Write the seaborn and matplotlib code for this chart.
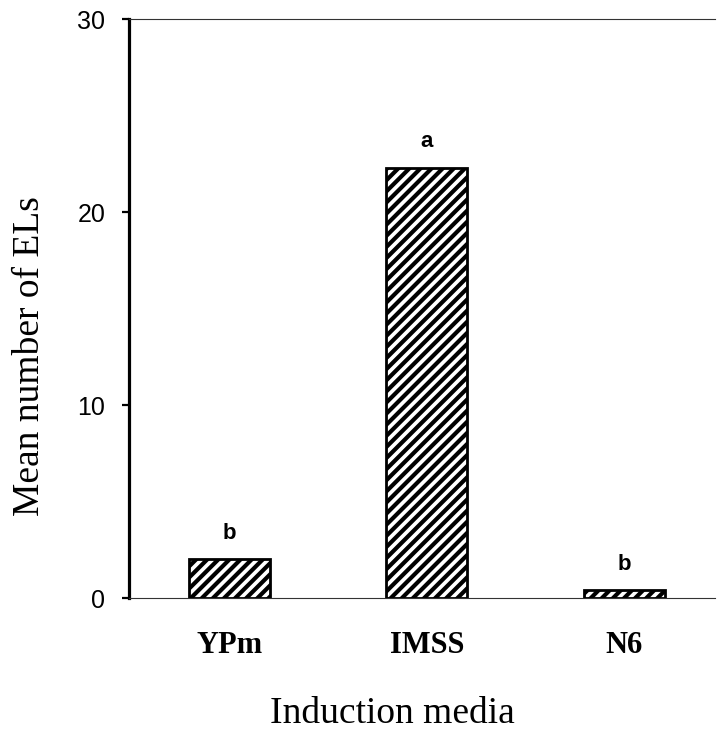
import pandas as pd
import seaborn as sns
import matplotlib.pyplot as plt

media = ['YPm', 'IMSS', 'N6']
mean_els = [2.0, 22.3, 0.4]
letters = ['b', 'a', 'b']

df = pd.DataFrame({'media': media, 'mean': mean_els})

plt.rcParams['hatch.linewidth'] = 3.0
fig = plt.figure(figsize=(7.17, 7.36), dpi=100)
ax = fig.add_axes([0.18, 0.1875, 0.817, 0.7865])

sns.barplot(data=df, x='media', y='mean', color='white', edgecolor='black',
            linewidth=2, width=0.41, hatch='///', ax=ax)

for i, (v, l) in enumerate(zip(mean_els, letters)):
    ax.text(i, v + 0.8, l, ha='center', va='bottom', fontsize=16,
            fontweight='bold', family='Liberation Sans')

ax.set_xlim(-0.51, 2.46)
ax.set_ylim(0, 30)
ax.set_yticks([0, 10, 20, 30])
ax.set_yticklabels(['0', '10', '20', '30'], family='Liberation Sans', fontsize=18)
ax.set_xticks(range(3))
ax.set_xticklabels(media, family='Liberation Serif', fontsize=22, fontweight='bold')
ax.tick_params(axis='x', length=0, pad=24)
ax.tick_params(axis='y', length=5, width=1.6, direction='out', pad=12)

ax.spines['right'].set_visible(False)
ax.spines['left'].set_linewidth(2.3)
ax.spines['top'].set_linewidth(0.8)
ax.spines['top'].set_color('#333333')
ax.spines['bottom'].set_linewidth(0.8)
ax.spines['bottom'].set_color('#333333')

ax.set_ylabel('Mean number of ELs', family='Liberation Serif', fontsize=27)
ax.yaxis.set_label_coords(-0.14, 0.418)
ax.set_xlabel('Induction media', family='Liberation Serif', fontsize=27)
ax.xaxis.set_label_coords(0.449, -0.171)

plt.savefig('out.png', dpi=100)
